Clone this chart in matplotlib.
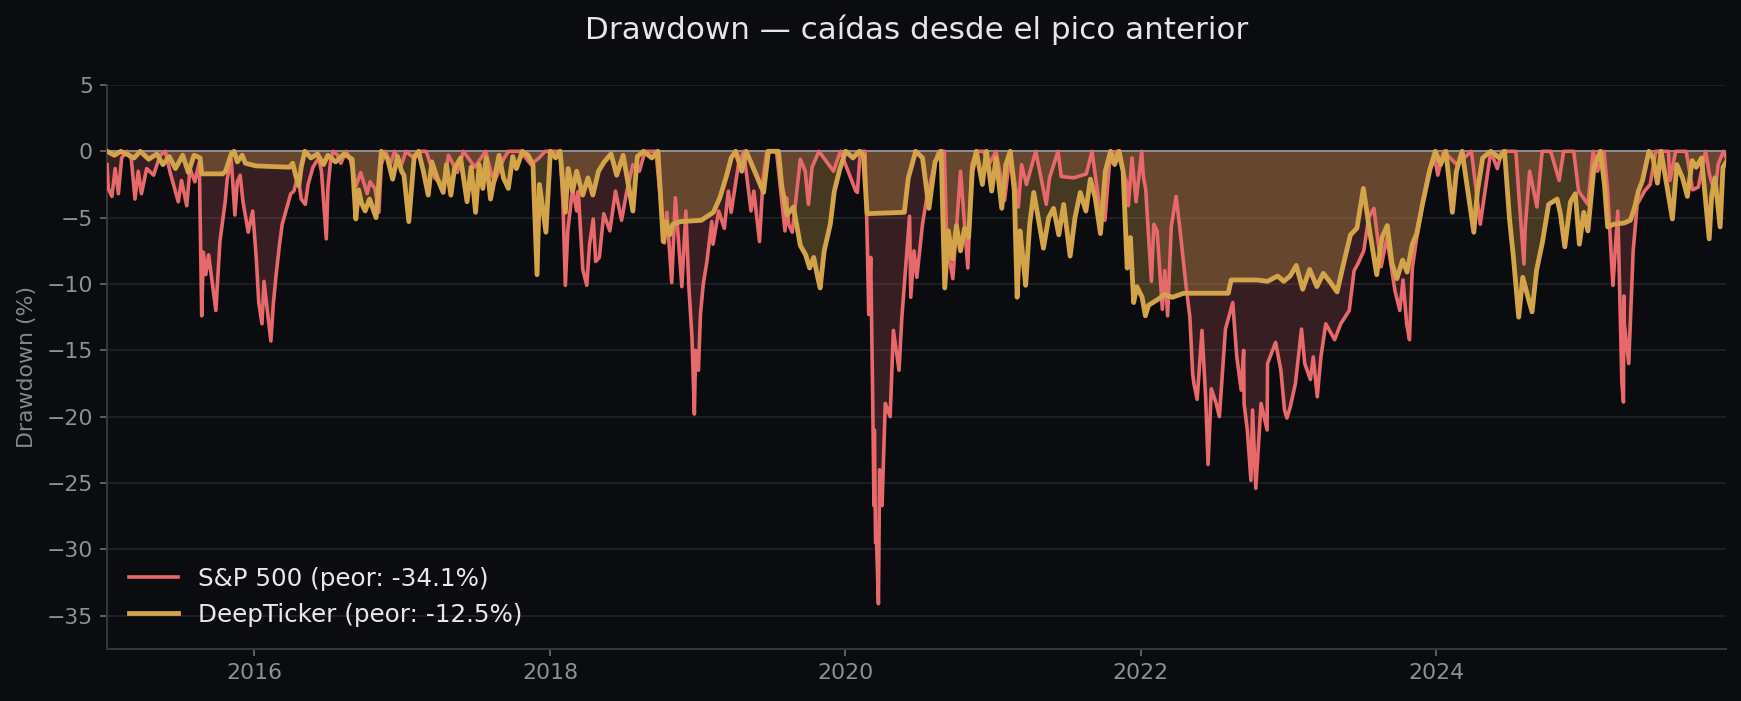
import matplotlib
matplotlib.use("Agg")
import matplotlib.pyplot as plt
import matplotlib.dates as mdates
import pandas as pd

# ---------------- data ----------------
sp_dates = [
    # 2015
    "2015-01-02", "2015-01-05", "2015-01-14", "2015-01-22", "2015-01-30", "2015-02-07", "2015-02-20",
    "2015-03-03", "2015-03-12", "2015-03-20", "2015-03-28", "2015-04-10", "2015-04-27", "2015-05-13",
    "2015-05-26", "2015-06-07", "2015-06-27", "2015-07-05", "2015-07-18", "2015-07-26", "2015-08-07",
    "2015-08-18", "2015-08-24", "2015-08-28", "2015-09-03", "2015-09-10", "2015-09-28", "2015-10-08",
    "2015-10-21", "2015-10-26", "2015-11-05", "2015-11-14", "2015-11-20", "2015-11-27", "2015-12-04",
    "2015-12-17", "2015-12-28",
    # 2016
    "2016-01-06", "2016-01-12", "2016-01-20", "2016-01-25", "2016-02-01", "2016-02-11", "2016-02-17",
    "2016-02-24", "2016-03-03", "2016-03-10", "2016-03-21", "2016-03-31", "2016-04-08", "2016-04-18",
    "2016-04-26", "2016-05-06", "2016-05-13", "2016-05-25", "2016-06-08", "2016-06-15", "2016-06-27",
    "2016-07-01", "2016-07-08", "2016-07-14", "2016-07-25", "2016-08-02", "2016-08-15", "2016-08-25",
    "2016-09-09", "2016-09-20", "2016-10-06", "2016-10-13", "2016-10-25", "2016-11-04", "2016-11-10",
    "2016-11-21", "2016-12-01", "2016-12-13", "2016-12-30",
    # 2017
    "2017-01-10", "2017-01-25", "2017-02-15", "2017-03-01", "2017-03-22", "2017-04-13", "2017-04-25",
    "2017-05-17", "2017-06-01", "2017-06-29", "2017-07-26", "2017-08-10", "2017-08-18", "2017-09-08",
    "2017-09-20", "2017-10-20", "2017-11-15", "2017-12-05", "2017-12-20",
    # 2018
    "2018-01-26", "2018-02-02", "2018-02-08", "2018-02-14", "2018-02-26", "2018-03-08", "2018-03-12",
    "2018-03-23", "2018-04-02", "2018-04-09", "2018-04-18", "2018-04-24", "2018-05-03", "2018-05-14",
    "2018-05-29", "2018-06-12", "2018-06-27", "2018-07-10", "2018-07-25", "2018-08-10", "2018-08-24",
    "2018-09-20", "2018-10-11", "2018-10-17", "2018-10-29", "2018-11-07", "2018-11-20", "2018-11-23",
    "2018-12-03", "2018-12-10", "2018-12-18", "2018-12-24", "2018-12-27",
    # 2019
    "2019-01-03", "2019-01-08", "2019-01-15", "2019-01-24", "2019-02-05", "2019-02-08", "2019-02-22",
    "2019-03-08", "2019-03-18", "2019-03-25", "2019-04-12", "2019-04-25", "2019-05-13", "2019-05-20",
    "2019-06-03", "2019-06-12", "2019-06-21", "2019-07-15", "2019-08-05", "2019-08-09", "2019-08-14",
    "2019-08-23", "2019-09-12", "2019-09-24", "2019-10-02", "2019-10-11", "2019-10-28", "2019-12-03",
    "2019-12-20",
    # 2020
    "2020-01-27", "2020-01-31", "2020-02-07", "2020-02-19", "2020-02-25", "2020-02-28", "2020-03-04",
    "2020-03-09", "2020-03-12", "2020-03-13", "2020-03-16", "2020-03-18", "2020-03-23", "2020-03-26",
    "2020-04-01", "2020-04-09", "2020-04-21", "2020-04-29", "2020-05-13", "2020-05-20", "2020-06-08",
    "2020-06-11", "2020-06-19", "2020-06-26", "2020-07-10", "2020-07-20", "2020-08-05", "2020-08-18",
    "2020-09-02", "2020-09-08", "2020-09-23", "2020-10-12", "2020-10-30", "2020-11-09", "2020-11-20",
    "2020-12-08", "2020-12-21",
    # 2021
    "2021-01-08", "2021-01-29", "2021-02-12", "2021-03-04", "2021-03-12", "2021-03-24", "2021-04-16",
    "2021-05-12", "2021-05-20", "2021-06-10", "2021-06-18", "2021-07-19", "2021-08-19", "2021-09-02",
    "2021-09-20", "2021-10-04", "2021-10-15", "2021-11-03", "2021-11-26", "2021-12-01", "2021-12-10",
    "2021-12-20",
    # 2022
    "2022-01-03", "2022-01-07", "2022-01-13", "2022-01-21", "2022-01-27", "2022-02-02", "2022-02-10",
    "2022-02-23", "2022-03-01", "2022-03-08", "2022-03-17", "2022-03-29", "2022-04-08", "2022-04-22",
    "2022-05-02", "2022-05-09", "2022-05-12", "2022-05-20", "2022-06-01", "2022-06-10", "2022-06-16",
    "2022-06-24", "2022-07-06", "2022-07-14", "2022-07-29", "2022-08-16", "2022-08-26", "2022-09-06",
    "2022-09-12", "2022-09-13", "2022-09-21", "2022-09-30", "2022-10-04", "2022-10-12", "2022-10-21",
    "2022-10-25", "2022-11-09", "2022-11-10", "2022-11-30", "2022-12-13", "2022-12-22", "2022-12-28",
    # 2023
    "2023-01-05", "2023-01-18", "2023-02-02", "2023-02-10", "2023-02-24", "2023-03-03", "2023-03-13",
    "2023-03-22", "2023-04-03", "2023-04-25", "2023-05-10", "2023-05-31", "2023-06-12", "2023-06-21",
    "2023-07-06", "2023-07-18", "2023-07-31", "2023-08-18", "2023-09-01", "2023-09-21", "2023-10-03",
    "2023-10-11", "2023-10-20", "2023-10-27", "2023-11-03", "2023-11-14", "2023-12-01", "2023-12-14",
    "2023-12-29",
    # 2024
    "2024-01-05", "2024-01-19", "2024-02-21", "2024-03-28", "2024-04-19", "2024-05-15", "2024-05-31",
    "2024-06-12", "2024-07-16", "2024-07-25", "2024-08-05", "2024-08-08", "2024-08-19", "2024-09-06",
    "2024-09-19", "2024-10-10", "2024-10-31", "2024-11-11", "2024-12-06", "2024-12-18",
    # 2025
    "2025-01-10", "2025-01-23", "2025-02-03", "2025-02-19", "2025-02-28", "2025-03-10", "2025-03-13",
    "2025-03-25", "2025-04-04", "2025-04-08", "2025-04-09", "2025-04-10", "2025-04-21", "2025-05-02",
    "2025-05-12", "2025-05-30", "2025-06-13", "2025-06-27", "2025-07-28", "2025-08-01", "2025-08-15",
    "2025-09-10", "2025-09-26", "2025-10-10", "2025-10-28", "2025-11-07", "2025-11-20", "2025-11-28",
    "2025-12-11", "2025-12-18",
]
sp_values = [
    # 2015
    -1.0, -2.8, -3.4, -1.3, -3.2, -0.5, 0.0,
    -0.6, -3.6, -1.5, -3.2, -1.3, -1.8, -0.3,
    0.0, -1.6, -3.8, -2.2, -4.1, -1.3, -2.3,
    -0.8, -12.4, -7.6, -9.3, -7.8, -12.0, -6.8,
    -3.8, -2.1, -0.6, -4.8, -2.3, -1.8, -3.8,
    -6.1, -4.5,
    # 2016
    -8.1, -11.4, -13.0, -9.8, -11.7, -14.3, -11.5,
    -9.3, -7.1, -5.5, -4.3, -3.2, -3.0, -1.8,
    -3.6, -4.0, -2.5, -1.2, -0.5, -1.5, -6.6,
    -2.8, -0.6, 0.0, -0.3, -0.9, 0.0, -0.6,
    -2.6, -1.6, -3.2, -2.3, -2.8, -4.6, -1.0,
    0.0, -1.1, 0.0, -1.0,
    # 2017
    0.0, -0.4, 0.0, 0.0, -2.0, -2.6, -0.3,
    -1.6, 0.0, -1.2, 0.0, -1.8, -2.2, -0.6,
    0.0, 0.0, -1.0, -0.5, 0.0,
    # 2018
    0.0, -3.9, -10.1, -6.0, -2.8, -4.5, -3.0,
    -8.9, -10.1, -7.0, -5.1, -8.3, -8.0, -4.7,
    -6.0, -3.0, -5.2, -3.0, -1.0, -1.5, 0.0,
    0.0, -6.9, -4.6, -9.9, -3.5, -9.0, -10.2,
    -4.5, -10.0, -14.0, -19.8, -15.0,
    # 2019
    -16.5, -12.3, -10.0, -8.3, -5.3, -7.0, -4.5,
    -5.8, -3.0, -4.6, -1.0, 0.0, -4.5, -3.0,
    -6.8, -2.0, 0.0, 0.0, -6.0, -3.5, -5.5,
    -6.1, -0.6, -1.5, -4.0, -1.2, 0.0, -1.5,
    0.0,
    # 2020
    -3.0, -3.1, 0.0, 0.0, -7.6, -12.3, -8.0,
    -19.0, -26.7, -21.0, -29.5, -29.0, -34.1, -24.0,
    -26.7, -19.0, -20.0, -13.5, -16.5, -12.5, -4.9,
    -11.0, -7.5, -9.5, -5.5, -3.6, -1.5, 0.0,
    0.0, -7.0, -9.6, -1.5, -8.8, -1.0, 0.0,
    0.0, -1.0,
    # 2021
    0.0, -3.7, 0.0, -4.2, -1.0, -2.5, 0.0,
    -4.0, -2.0, 0.0, -1.9, -2.0, -1.7, 0.0,
    -4.0, -5.2, -1.0, 0.0, -2.3, -4.1, -0.5,
    -3.8,
    # 2022
    0.0, -1.9, -2.9, -7.0, -9.8, -5.5, -6.0,
    -11.9, -9.0, -12.4, -5.7, -3.4, -6.0, -10.0,
    -12.5, -16.8, -17.5, -18.7, -13.5, -18.5, -23.6,
    -17.9, -19.0, -20.0, -13.4, -11.4, -15.5, -18.0,
    -15.0, -19.0, -21.0, -24.8, -19.5, -25.4, -21.0,
    -19.0, -21.0, -16.0, -14.4, -16.5, -19.5, -20.1,
    # 2023
    -19.3, -17.5, -13.4, -16.0, -17.2, -15.5, -18.5,
    -15.5, -13.0, -14.2, -13.0, -12.0, -9.0, -8.5,
    -7.5, -5.0, -4.3, -8.7, -6.5, -10.5, -12.0,
    -9.7, -13.0, -14.2, -8.8, -6.5, -3.5, -1.5,
    -0.6,
    # 2024
    -1.8, 0.0, -1.0, 0.0, -5.5, 0.0, -1.3,
    0.0, 0.0, -4.0, -8.5, -5.8, -1.5, -4.2,
    0.0, 0.0, -2.2, 0.0, 0.0, -3.0,
    # 2025
    -4.0, 0.0, -1.5, 0.0, -3.0, -8.6, -10.1,
    -4.5, -17.4, -18.9, -10.9, -13.0, -16.0, -7.5,
    -4.0, -3.0, -2.5, 0.0, 0.0, -2.2, 0.0,
    0.0, -2.9, -2.7, 0.0, -1.8, -3.2, -1.0,
    0.0, -0.5,
]

dt_dates = [
    # 2015
    "2015-01-02", "2015-01-20", "2015-02-05", "2015-03-10", "2015-03-25", "2015-04-15", "2015-05-05",
    "2015-05-20", "2015-06-05", "2015-06-20", "2015-07-08", "2015-07-22", "2015-08-05", "2015-08-20",
    "2015-08-24", "2015-10-15", "2015-10-22", "2015-11-05", "2015-11-12", "2015-11-20", "2015-12-02",
    "2015-12-10",
    # 2016
    "2016-01-05", "2016-03-28", "2016-04-05", "2016-04-12", "2016-04-20", "2016-04-26", "2016-05-05",
    "2016-05-20", "2016-06-05", "2016-06-20", "2016-07-01", "2016-07-20", "2016-08-10", "2016-08-30",
    "2016-09-08", "2016-09-15", "2016-09-22", "2016-10-01", "2016-10-12", "2016-10-20", "2016-10-28",
    "2016-11-10", "2016-11-25", "2016-12-08", "2016-12-20", "2016-12-30",
    # 2017
    "2017-01-05", "2017-01-17", "2017-01-30", "2017-02-10", "2017-02-22", "2017-03-06", "2017-03-15",
    "2017-03-28", "2017-04-12", "2017-04-20", "2017-05-01", "2017-05-10", "2017-05-25", "2017-06-10",
    "2017-06-20", "2017-07-01", "2017-07-10", "2017-07-19", "2017-07-27", "2017-08-07", "2017-08-17",
    "2017-08-28", "2017-09-08", "2017-09-20", "2017-10-01", "2017-10-10", "2017-10-25", "2017-11-08",
    "2017-11-20", "2017-11-30", "2017-12-06", "2017-12-22",
    # 2018
    "2018-01-02", "2018-01-15", "2018-01-26", "2018-02-08", "2018-02-15", "2018-02-26", "2018-03-08",
    "2018-03-23", "2018-04-05", "2018-04-17", "2018-05-01", "2018-05-15", "2018-06-01", "2018-06-15",
    "2018-07-01", "2018-07-25", "2018-08-05", "2018-08-20", "2018-09-10", "2018-09-25", "2018-10-08",
    "2018-10-15", "2018-10-24", "2018-11-01", "2018-11-20",
    # 2019
    "2019-01-10", "2019-02-09", "2019-02-25", "2019-03-14", "2019-03-25", "2019-04-05", "2019-04-20",
    "2019-05-01", "2019-05-15", "2019-06-13", "2019-06-25", "2019-07-20", "2019-07-28", "2019-08-10",
    "2019-08-26", "2019-09-12", "2019-09-25", "2019-10-05", "2019-10-15", "2019-10-25", "2019-10-31",
    "2019-11-10", "2019-11-25", "2019-12-05", "2019-12-19",
    # 2020
    "2020-01-02", "2020-01-20", "2020-02-05", "2020-02-15", "2020-02-24", "2020-05-26", "2020-06-05",
    "2020-06-23", "2020-07-10", "2020-07-26", "2020-08-10", "2020-08-25", "2020-09-03", "2020-09-12",
    "2020-09-22", "2020-10-02", "2020-10-12", "2020-10-22", "2020-11-01", "2020-11-10", "2020-11-20",
    "2020-12-05", "2020-12-15", "2020-12-28",
    # 2021
    "2021-01-08", "2021-01-22", "2021-02-01", "2021-02-12", "2021-02-22", "2021-03-01", "2021-03-08",
    "2021-03-15", "2021-03-22", "2021-04-01", "2021-04-11", "2021-04-22", "2021-05-05", "2021-05-18",
    "2021-05-30", "2021-06-12", "2021-06-24", "2021-07-10", "2021-07-22", "2021-08-04", "2021-08-18",
    "2021-08-29", "2021-09-10", "2021-09-23", "2021-10-05", "2021-10-18", "2021-10-28", "2021-11-08",
    "2021-11-18", "2021-11-28", "2021-12-06", "2021-12-14", "2021-12-22",
    # 2022
    "2022-01-04", "2022-01-12", "2022-01-20", "2022-02-10", "2022-03-01", "2022-03-20", "2022-04-17",
    "2022-08-05", "2022-08-12", "2022-10-15", "2022-11-10", "2022-12-05", "2022-12-20",
    # 2023
    "2023-01-05", "2023-01-20", "2023-02-05", "2023-02-22", "2023-03-12", "2023-03-28", "2023-04-15",
    "2023-05-01", "2023-05-16", "2023-06-03", "2023-06-19", "2023-07-05", "2023-07-22", "2023-08-07",
    "2023-08-20", "2023-09-02", "2023-09-14", "2023-09-26", "2023-10-10", "2023-10-21", "2023-11-03",
    "2023-11-14", "2023-11-28", "2023-12-17", "2023-12-30",
    # 2024
    "2024-01-12", "2024-01-25", "2024-02-10", "2024-02-20", "2024-03-05", "2024-04-03", "2024-04-12",
    "2024-04-25", "2024-05-15", "2024-06-05", "2024-06-18", "2024-06-30", "2024-07-10", "2024-07-23",
    "2024-08-02", "2024-08-15", "2024-08-25", "2024-09-05", "2024-09-20", "2024-10-05", "2024-10-26",
    "2024-11-03", "2024-11-14", "2024-11-28", "2024-12-10", "2024-12-20", "2024-12-31",
    # 2025
    "2025-01-10", "2025-01-25", "2025-02-10", "2025-02-20", "2025-02-28", "2025-03-15", "2025-04-10",
    "2025-04-25", "2025-05-05", "2025-05-15", "2025-05-25", "2025-06-10", "2025-06-20", "2025-07-01",
    "2025-07-10", "2025-08-07", "2025-08-18", "2025-09-01", "2025-09-13", "2025-09-25", "2025-10-05",
    "2025-10-18", "2025-11-06", "2025-11-12", "2025-11-20", "2025-12-03", "2025-12-10", "2025-12-18",
]
dt_values = [
    # 2015
    0.0, -0.3, 0.0, -0.5, 0.0, -0.6, -0.2,
    -1.0, -0.4, -1.3, -0.3, -1.6, -0.3, -0.5,
    -1.7, -1.7, -1.5, -0.2, 0.0, -0.8, -0.3,
    -0.9,
    # 2016
    -1.1, -1.2, -0.9, -1.8, -2.6, -1.2, 0.0,
    -0.5, -0.2, -1.0, -0.3, -0.8, -0.2, -0.6,
    -5.1, -2.9, -3.9, -4.5, -3.6, -4.3, -5.0,
    0.0, -0.5, -2.1, -0.4, -1.5,
    # 2017
    -1.8, -5.3, -0.5, 0.0, -1.5, -3.3, -0.8,
    -2.0, -3.1, -1.0, -3.3, -1.3, -0.5, -3.8,
    -1.2, -4.6, -1.0, -2.8, -0.5, -3.6, -2.0,
    -0.3, -2.0, -2.8, -0.4, -1.3, 0.0, -0.3,
    -1.0, -9.3, -2.5, -6.1,
    # 2018
    0.0, -0.5, 0.0, -4.6, -1.3, -3.0, -1.5,
    -3.3, -2.0, -3.3, -1.5, -0.8, -0.2, -1.8,
    -0.3, -4.5, -0.4, 0.0, -0.5, 0.0, -6.8,
    -5.3, -6.3, -5.5, -5.3,
    # 2019
    -5.2, -4.6, -3.5, -1.8, -0.5, 0.0, -1.5,
    0.0, -1.0, -3.1, 0.0, 0.0, -2.6, -4.8,
    -4.2, -7.1, -7.8, -8.8, -8.0, -9.5, -10.3,
    -7.5, -5.5, -3.0, -1.3,
    # 2020
    0.0, -0.5, 0.0, -0.3, -4.7, -4.6, -2.0,
    0.0, -0.5, -4.3, -0.8, 0.0, -10.3, -6.0,
    -8.1, -5.6, -7.5, -5.8, -6.5, -1.5, 0.0,
    -2.5, 0.0, -3.0,
    # 2021
    -0.5, -4.3, -1.0, 0.0, -3.0, -11.0, -6.0,
    -8.0, -10.1, -5.5, -3.1, -5.0, -7.3, -5.0,
    -4.3, -6.3, -4.0, -7.9, -5.0, -3.1, -4.5,
    -2.1, -3.5, -6.2, -1.5, 0.0, -1.0, 0.0,
    -1.5, -8.8, -6.5, -11.4, -10.2,
    # 2022
    -11.0, -12.4, -11.6, -11.2, -10.8, -11.0, -10.7,
    -10.7, -9.7, -9.7, -9.8, -9.4, -9.8,
    # 2023
    -9.4, -8.6, -10.4, -8.9, -10.2, -9.2, -9.9,
    -10.6, -8.6, -6.3, -5.8, -2.8, -6.3, -9.3,
    -6.5, -5.6, -8.5, -9.6, -8.2, -9.1, -7.0,
    -6.2, -4.0, -1.3, 0.0,
    # 2024
    -1.0, 0.0, -4.6, -1.5, 0.0, -6.1, -3.0,
    -0.5, 0.0, -0.5, 0.0, -5.0, -8.0, -12.5,
    -9.5, -11.0, -12.1, -9.0, -6.8, -4.0, -3.6,
    -4.7, -7.2, -3.8, -3.2, -7.0, -4.6,
    # 2025
    -6.0, -1.2, 0.0, -2.5, -5.7, -5.5, -5.4,
    -5.2, -4.3, -3.0, -2.2, 0.0, -0.5, -2.4,
    0.0, -5.1, -1.0, -2.0, -3.4, -0.7, -1.2,
    -0.5, -6.6, -3.4, -2.0, -5.7, -1.2, -0.8,
]

assert len(sp_dates) == len(sp_values)
assert len(dt_dates) == len(dt_values)

sp_name = "S&P 500"
dt_name = "DeepTicker"
title_text = "Drawdown — caídas desde el pico anterior"
ylabel_text = "Drawdown (%)"
y_ticks = [5, 0, -5, -10, -15, -20, -25, -30, -35]

# ---------------- style ----------------
BG = "#0b0c10"
RED = "#e8696b"
GOLD = "#d4a44a"
GRID = "#1f2126"
SPINE = "#34363c"
TICKC = "#8f9198"

sp_x = pd.to_datetime(sp_dates)
dt_x = pd.to_datetime(dt_dates)

fig = plt.figure(figsize=(1741 / 144, 701 / 144), dpi=144, facecolor=BG)
ax = fig.add_axes([0.0615, 0.0742, 0.9300, 0.8046])
ax.set_facecolor(BG)

sp_worst = min(sp_values)
dt_worst = min(dt_values)

ax.fill_between(sp_x, sp_values, 0, color=RED, alpha=0.20, lw=0, zorder=2)
ax.fill_between(dt_x, dt_values, 0, color=GOLD, alpha=0.30, lw=0, zorder=2.1)
ax.axhline(0, color="#8d8d93", lw=1.0, zorder=2.5)
ax.plot(sp_x, sp_values, color=RED, lw=1.8, zorder=3,
        label=f"{sp_name} (peor: {sp_worst:.1f}%)")
ax.plot(dt_x, dt_values, color=GOLD, lw=2.4, zorder=4,
        label=f"{dt_name} (peor: {dt_worst:.1f}%)")

ax.set_xlim(sp_x[0], sp_x[-1])
ax.set_ylim(sp_worst * 1.1, 5)
ax.set_yticks(y_ticks)

ax.xaxis.set_major_locator(mdates.YearLocator(2))
ax.xaxis.set_major_formatter(mdates.DateFormatter("%Y"))

ax.grid(axis="y", color=GRID, lw=0.9, zorder=0)
ax.grid(axis="x", visible=False)
ax.set_axisbelow(True)

for side in ["top", "right"]:
    ax.spines[side].set_visible(False)
for side in ["left", "bottom"]:
    ax.spines[side].set_color(SPINE)
    ax.spines[side].set_linewidth(1.0)

ax.tick_params(colors=TICKC, labelsize=11, length=3.5, width=1.0)
ax.tick_params(axis="both", color="#5a5c62")

ax.set_ylabel(ylabel_text, color="#85878e", fontsize=11, labelpad=5)
ax.set_title(title_text, color="#e6e6e6", fontsize=15.5, pad=23)

leg = ax.legend(loc="lower left", frameon=False, fontsize=12.3,
                labelcolor="#e8e8e8", handlelength=2.0, borderaxespad=0.5)

fig.savefig("out.png", dpi=144, facecolor=BG)
